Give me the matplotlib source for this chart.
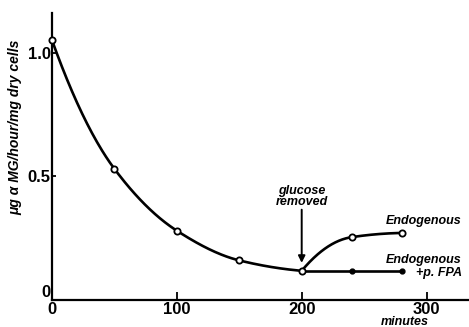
import numpy as np
import matplotlib
matplotlib.use("Agg")
import matplotlib.pyplot as plt

plt.rcParams['font.family'] = ['Liberation Sans', 'DejaVu Sans']

# Glucose-grown cells: activity falls with time
t_main = [0, 50, 100, 150, 200]
v_main = [1.05, 0.53, 0.28, 0.16, 0.118]

# After glucose removal
t_endo = [200, 240, 280]
v_endo = [0.118, 0.254, 0.271]
t_fpa = [200, 240, 280]
v_fpa = [0.118, 0.118, 0.118]

x_ticks = [0, 100, 200, 300]
x_ticklabels = ['0', '100', '200', '300']
y_ticks = [0, 0.5, 1.0]
y_ticklabels = ['0', '0.5', '1.0']


def smooth_curve(x, y, n=200):
    """Monotone cubic Hermite curve through the points."""
    x = np.asarray(x, float)
    y = np.asarray(y, float)
    h = np.diff(x)
    d = np.diff(y) / h
    m = np.zeros_like(y)
    for k in range(1, len(x) - 1):
        if d[k - 1] * d[k] > 0:
            m[k] = 2.0 / (1.0 / d[k - 1] + 1.0 / d[k])
    m[0] = 2 * d[0] - m[1]
    m[-1] = 2 * d[-1] - m[-2]
    if m[-1] * d[-1] < 0:
        m[-1] = 0.0
    xs = np.linspace(x[0], x[-1], n)
    idx = np.clip(np.searchsorted(x, xs) - 1, 0, len(x) - 2)
    t = (xs - x[idx]) / h[idx]
    h00 = 2 * t**3 - 3 * t**2 + 1
    h10 = t**3 - 2 * t**2 + t
    h01 = -2 * t**3 + 3 * t**2
    h11 = t**3 - t**2
    ys = h00 * y[idx] + h10 * h[idx] * m[idx] + h01 * y[idx + 1] + h11 * h[idx] * m[idx + 1]
    return xs, ys


fig = plt.figure(figsize=(4.69, 3.27), dpi=100)
ax = fig.add_axes([52 / 469, 1 - 300 / 327, 1 - 52 / 469, 287 / 327])
ax.set_xlim(0, 334)
ax.set_ylim(0, 1.16)

lw = 1.9
xs, ys = smooth_curve(t_main, v_main)
ax.plot(xs, ys, color='black', lw=lw, zorder=2)
xs, ys = smooth_curve(t_endo, v_endo)
ax.plot(xs, ys, color='black', lw=lw, zorder=2)
ax.plot(t_fpa, v_fpa, color='black', lw=lw, zorder=2)

ax.plot(t_main, v_main, 'o', ms=4.5, mfc='white', mec='black', mew=1.3, zorder=3, clip_on=False)
ax.plot(t_endo[1:], v_endo[1:], 'o', ms=4.5, mfc='white', mec='black', mew=1.3, zorder=3)
ax.plot(t_fpa[1:], v_fpa[1:], 'o', ms=3.5, mfc='black', mec='black', zorder=3)

for s in ['top', 'right']:
    ax.spines[s].set_visible(False)
for s in ['left', 'bottom']:
    ax.spines[s].set_linewidth(1.6)

ax.set_xticks(x_ticks)
ax.set_xticklabels(x_ticklabels, fontsize=12, fontweight='bold')
ax.set_yticks(y_ticks)
ax.set_yticklabels(y_ticklabels, fontsize=12, fontweight='bold')
ax.tick_params(axis='x', direction='in', length=6, width=1.3, pad=1.5)
ax.tick_params(axis='y', direction='in', length=3, width=1.3, pad=1)
# the y-axis zero sits just above the x-axis line
ax.get_yticklabels()[0].set_verticalalignment('bottom')

txt = dict(fontsize=9, fontweight='bold', style='italic')
ax.annotate('', xy=(200, 0.15), xytext=(200, 0.365),
            arrowprops=dict(arrowstyle='-|>', color='black', lw=1.4,
                            mutation_scale=10, shrinkA=0, shrinkB=0))
ax.text(200, 0.37, 'glucose\nremoved', ha='center', va='bottom',
        linespacing=0.95, **txt)
ax.text(328, 0.318, 'Endogenous', ha='right', va='center', **txt)
ax.text(328, 0.134, 'Endogenous\n+p. FPA', ha='right', va='center',
        linespacing=1.1, **txt)

fig.text(405 / 469, 1 - 322 / 327, 'minutes', ha='center', va='center', **txt)
fig.text(15 / 469, 1 - 127 / 327, 'μg α MG/hour/mg dry cells', rotation=90,
         ha='center', va='center', fontsize=10, fontweight='bold', style='italic')

fig.savefig('out.png', dpi=100)
